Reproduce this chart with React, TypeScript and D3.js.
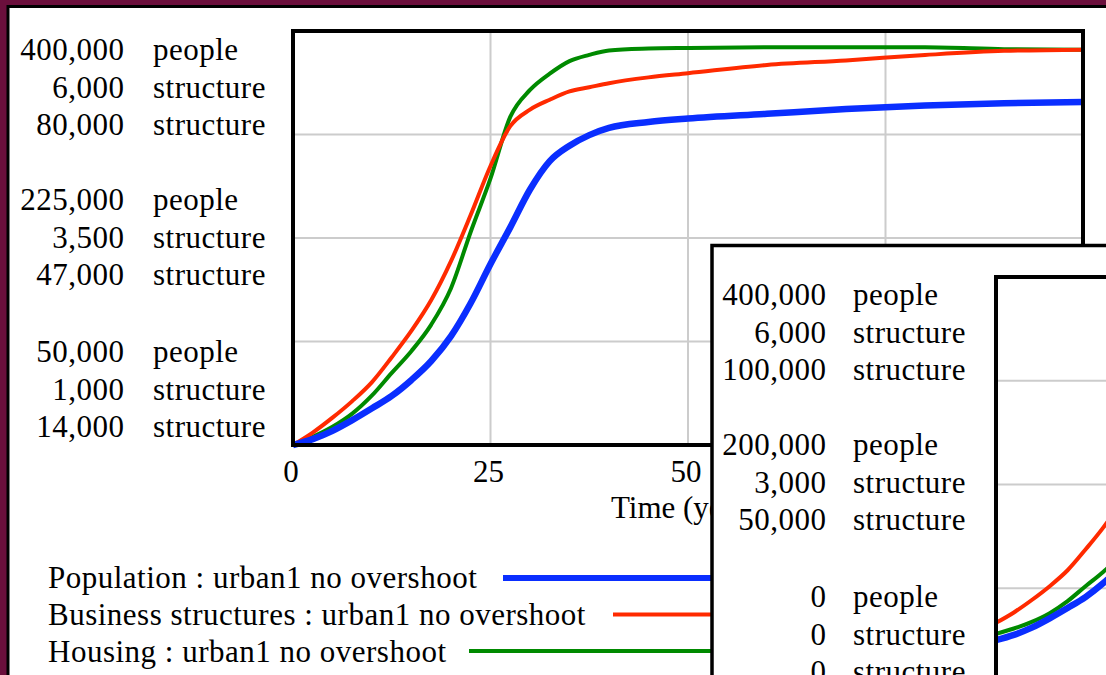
import React from 'react';
import * as d3 from 'd3';

const time = [0, 2.5, 5, 7.5, 10, 12.5, 15, 17.5, 20, 22.5, 25, 27.5, 30, 32.5, 35, 37.5, 40, 45, 50, 60, 70, 80, 90, 100];
const population = [50000, 55000, 62000, 71000, 81000, 91500, 105000, 121000, 142000, 170000, 203000, 234000, 266000, 290000, 303000, 312000, 318000, 323000, 326000, 330000, 334000, 337000, 339000, 340000];
const business = [1000, 1150, 1330, 1530, 1760, 2060, 2380, 2750, 3220, 3780, 4370, 4850, 5050, 5170, 5270, 5320, 5370, 5440, 5490, 5590, 5645, 5710, 5760, 5775];
const housing = [14000, 15300, 16900, 19000, 21900, 25500, 29000, 33200, 39000, 48000, 56500, 66300, 70600, 73200, 75200, 76200, 76900, 77200, 77300, 77400, 77400, 77400, 77100, 77000];

const xTicks = [0, 25, 50, 75, 100];
const mainPopTicks = [400000, 225000, 50000];
const mainBizTicks = [6000, 3500, 1000];
const mainHouseTicks = [80000, 47000, 14000];
const zoomPopTicks = [400000, 200000, 0];
const zoomBizTicks = [6000, 3000, 0];
const zoomHouseTicks = [100000, 50000, 0];
const units = ['people', 'structure', 'structure'];
const legendNames = [
  'Population : urban1 no overshoot',
  'Business structures : urban1 no overshoot',
  'Housing : urban1 no overshoot',
];

const BLUE = '#0a2eff';
const RED = '#ff2a00';
const GREEN = '#008a00';
const GRID = '#cccccc';
const FONT = '"Liberation Serif", "Times New Roman", serif';
const FS = 31;
const LS = 0.5;
const PANEL_X = 712;
const fmt = d3.format(',');

type ChartProps = {
  x0: number; x1: number; yTop: number; yBot: number;
  pDom: [number, number]; bDom: [number, number]; hDom: [number, number];
  gridX: boolean;
};

function Curves({ x0, x1, yTop, yBot, pDom, bDom, hDom, gridX }: ChartProps) {
  const x = d3.scaleLinear().domain([0, 100]).range([x0, x1]);
  const yP = d3.scaleLinear().domain(pDom).range([yBot, yTop]);
  const yB = d3.scaleLinear().domain(bDom).range([yBot, yTop]);
  const yH = d3.scaleLinear().domain(hDom).range([yBot, yTop]);
  const mk = (vals: number[], y: d3.ScaleLinear<number, number>) =>
    d3.line<number>().x((_, i) => x(time[i])).y((d) => y(d)).curve(d3.curveMonotoneX)(vals) || '';
  return (
    <g>
      {gridX && xTicks.slice(1, -1).map((t) => (
        <line key={'gx' + t} x1={x(t)} x2={x(t)} y1={yTop} y2={yBot} stroke={GRID} strokeWidth={2} />
      ))}
      {[0.25, 0.5, 0.75].map((f) => {
        const yy = yBot + (yTop - yBot) * f;
        return <line key={'gy' + f} x1={x0} x2={x1} y1={yy} y2={yy} stroke={GRID} strokeWidth={2} />;
      })}
      <path d={mk(housing, yH)} fill="none" stroke={GREEN} strokeWidth={4} />
      <path d={mk(business, yB)} fill="none" stroke={RED} strokeWidth={4} />
      <path d={mk(population, yP)} fill="none" stroke={BLUE} strokeWidth={6.5} />
      <rect x={x0} y={yTop} width={x1 - x0} height={yBot - yTop} fill="none" stroke="#000" strokeWidth={4} />
    </g>
  );
}

function Labels({ xNum, xUnit, baselines, groups }: { xNum: number; xUnit: number; baselines: number[]; groups: number[][] }) {
  const out: React.ReactNode[] = [];
  baselines.forEach((b, gi) => {
    [0, 1, 2].forEach((row) => {
      const yy = b + row * 37.5;
      out.push(
        <text key={`n${gi}${row}`} x={xNum + LS} y={yy} textAnchor="end">{fmt(groups[row][gi])}</text>,
        <text key={`u${gi}${row}`} x={xUnit} y={yy}>{units[row]}</text>
      );
    });
  });
  return <g fontFamily={FONT} fontSize={FS} fill="#000" letterSpacing={LS}>{out}</g>;
}

export default function App() {
  const xMain = d3.scaleLinear().domain([0, 100]).range([293, 1083]);
  const legendColors = [BLUE, RED, GREEN];
  const legendWidths = [6, 4, 4];
  const legendStarts = [503, 613, 469];
  return (
    <svg width={1106} height={675} style={{ position: 'absolute', left: 0, top: 0 }}>
      <defs>
        <clipPath id="underPanel">
          <rect x={0} y={0} width={PANEL_X} height={675} />
        </clipPath>
      </defs>
      <rect x={0} y={0} width={1106} height={675} fill="#6b0f3c" />
      <rect x={8} y={6.5} width={1200} height={800} fill="#fff" stroke="#000" strokeWidth={3} />

      <Curves x0={293} x1={1083} yTop={31} yBot={445} pDom={[50000, 400000]} bDom={[1000, 6000]} hDom={[14000, 80000]} gridX={true} />
      <Labels xNum={124} xUnit={153} baselines={[60, 210, 362]} groups={[mainPopTicks, mainBizTicks, mainHouseTicks]} />

      <g fontFamily={FONT} fontSize={FS} fill="#000">
        {xTicks.filter((t) => xMain(t) < PANEL_X).map((t) => (
          <text key={'xt' + t} x={xMain(t) - 2} y={482} textAnchor="middle">{t}</text>
        ))}
        <text x={xMain(50) + 2} y={518} textAnchor="middle" clipPath="url(#underPanel)">Time (years)</text>
        {legendNames.map((n, i) => (
          <text key={'ln' + i} x={48} y={588 + i * 37} letterSpacing={LS}>{n}</text>
        ))}
      </g>
      {legendNames.map((n, i) => (
        <line key={'ll' + i} x1={legendStarts[i]} x2={900} y1={578 + i * 36.5} y2={578 + i * 36.5} stroke={legendColors[i]} strokeWidth={legendWidths[i]} />
      ))}

      <rect x={PANEL_X} y={245.5} width={600} height={600} fill="#fff" stroke="#000" strokeWidth={3.5} />
      <Curves x0={996} x1={1712} yTop={277} yBot={692} pDom={[0, 400000]} bDom={[0, 6000]} hDom={[0, 100000]} gridX={false} />
      <Labels xNum={826} xUnit={853} baselines={[305, 455, 607]} groups={[zoomPopTicks, zoomBizTicks, zoomHouseTicks]} />
    </svg>
  );
}
